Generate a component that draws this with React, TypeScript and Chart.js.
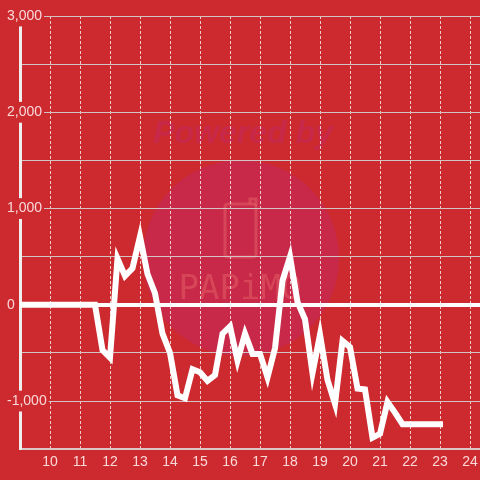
import React, { useEffect, useRef } from "react";
import { Chart, registerables } from "chart.js";

Chart.register(...registerables);

const hours = [
  9, 9.25, 9.5, 9.75, 10, 10.25, 10.5, 10.75, 11, 11.25, 11.5, 11.75,
  12, 12.25, 12.5, 12.75, 13, 13.25, 13.5, 13.75, 14, 14.25, 14.5, 14.75,
  15, 15.25, 15.5, 15.75, 16, 16.25, 16.5, 16.75, 17, 17.25, 17.5, 17.75,
  18, 18.25, 18.5, 18.75, 19, 19.25, 19.5, 19.75, 20, 20.25, 20.5, 20.75,
  21, 21.25, 21.5, 21.75, 22, 22.25, 22.5, 22.75, 23,
];

const values = [
  0, 0, 0, 0, 0, 0, 0, 0, 0, 0, 0, -470,
  -550, 480, 300, 380, 710, 320, 120, -300, -500, -940, -970, -670,
  -700, -790, -730, -300, -225, -580, -300, -510, -510, -755, -450, 250,
  500, 30, -150, -710, -310, -780, -1030, -375, -440, -870, -880, -1380,
  -1340, -1010, -1120, -1240, -1240, -1240, -1240, -1240, -1240,
];

const xMin = 9;
const xMax = 24.333;
const yMin = -1500;
const yMax = 3000;

const BG = "#cc2a2f";

const watermark = {
  id: "watermark",
  beforeDraw(chart: any) {
    const { ctx, width, height } = chart;
    ctx.save();
    ctx.fillStyle = BG;
    ctx.fillRect(0, 0, width, height);
    // circle
    ctx.fillStyle = "#c92949";
    ctx.beginPath();
    ctx.arc(241, 258, 98, 0, Math.PI * 2);
    ctx.fill();
    // Powered by
    ctx.fillStyle = "#c92949";
    ctx.font = "italic bold 32px 'Liberation Sans', Arial, sans-serif";
    ctx.textAlign = "center";
    ctx.textBaseline = "middle";
    ctx.fillText("Powered by", 243, 134);
    // phone icon
    ctx.strokeStyle = "rgba(225,95,100,0.55)";
    ctx.lineWidth = 3;
    ctx.beginPath();
    const rx = 225, ry = 204, rw = 31, rh = 53, r = 3;
    ctx.moveTo(rx + r, ry);
    ctx.lineTo(rx + rw - r, ry);
    ctx.quadraticCurveTo(rx + rw, ry, rx + rw, ry + r);
    ctx.lineTo(rx + rw, ry + rh - r);
    ctx.quadraticCurveTo(rx + rw, ry + rh, rx + rw - r, ry + rh);
    ctx.lineTo(rx + r, ry + rh);
    ctx.quadraticCurveTo(rx, ry + rh, rx, ry + rh - r);
    ctx.lineTo(rx, ry + r);
    ctx.quadraticCurveTo(rx, ry, rx + r, ry);
    ctx.stroke();
    ctx.beginPath();
    ctx.moveTo(250, 204);
    ctx.lineTo(250, 199);
    ctx.lineTo(256, 199);
    ctx.lineTo(256, 206);
    ctx.stroke();
    // PAPiMO
    ctx.fillStyle = "rgba(225,95,100,0.55)";
    ctx.font = "34px 'DejaVu Sans Mono', monospace";
    ctx.fillText("PAPiMO", 240, 290);
    ctx.restore();
  },
};

export default function App() {
  const ref = useRef<HTMLCanvasElement | null>(null);

  useEffect(() => {
    document.body.style.margin = "0";
    const canvas = ref.current;
    if (!canvas) return;
    const data = hours.map((h, i) => ({ x: h, y: values[i] }));
    const font = { family: "'Liberation Sans', Arial, sans-serif", size: 14 };
    const chart = new Chart(canvas, {
      type: "line",
      data: {
        datasets: [
          {
            data,
            borderColor: "#ffffff",
            borderWidth: 6,
            borderCapStyle: "square",
            borderJoinStyle: "miter",
            pointRadius: 0,
            tension: 0,
            fill: false,
          },
        ],
      },
      options: {
        responsive: false,
        animation: false,
        events: [],
        layout: { padding: { left: 20, top: 16, right: 0, bottom: 4 } },
        plugins: {
          legend: { display: false },
          tooltip: { enabled: false },
        },
        scales: {
          x: {
            type: "linear",
            min: xMin,
            max: xMax,
            afterFit: (axis: any) => {
              axis.paddingLeft = 0;
              axis.paddingRight = 0;
            },
            ticks: {
              stepSize: 1,
              includeBounds: false,
              autoSkip: false,
              maxRotation: 0,
              padding: 5,
              color: "rgba(255,235,235,0.9)",
              font,
              callback: (v: any) => (Number(v) === 9 ? "" : String(v)),
            },
            grid: {
              drawTicks: false,
              color: "rgba(245,230,230,0.85)",
              lineWidth: 1,
            },
            border: { display: true, color: "#d9c6c6", width: 2, dash: [3, 2] },
          },
          y: {
            type: "linear",
            min: yMin,
            max: yMax,
            afterFit: (axis: any) => {
              axis.width = 0;
            },
            ticks: {
              stepSize: 500,
              mirror: true,
              padding: -13,
              color: "rgba(255,235,235,0.9)",
              font,
              showLabelBackdrop: true,
              backdropColor: BG,
              backdropPadding: 2,
              callback: (v: any) =>
                Number(v) % 1000 === 0 ? Number(v).toLocaleString("en-US") : "",
            },
            grid: {
              drawTicks: false,
              color: (c: any) => (c.tick && c.tick.value === 0 ? "#ffffff" : "#d2c4c4"),
              lineWidth: (c: any) => (c.tick && c.tick.value === 0 ? 4 : 1),
            },
            border: { display: true, color: "#eeeeee", width: 3 },
          },
        },
      },
      plugins: [watermark],
    } as any);
    return () => chart.destroy();
  }, []);

  return (
    <canvas
      ref={ref}
      width={480}
      height={480}
      style={{ display: "block", width: 480, height: 480, background: BG }}
    />
  );
}
